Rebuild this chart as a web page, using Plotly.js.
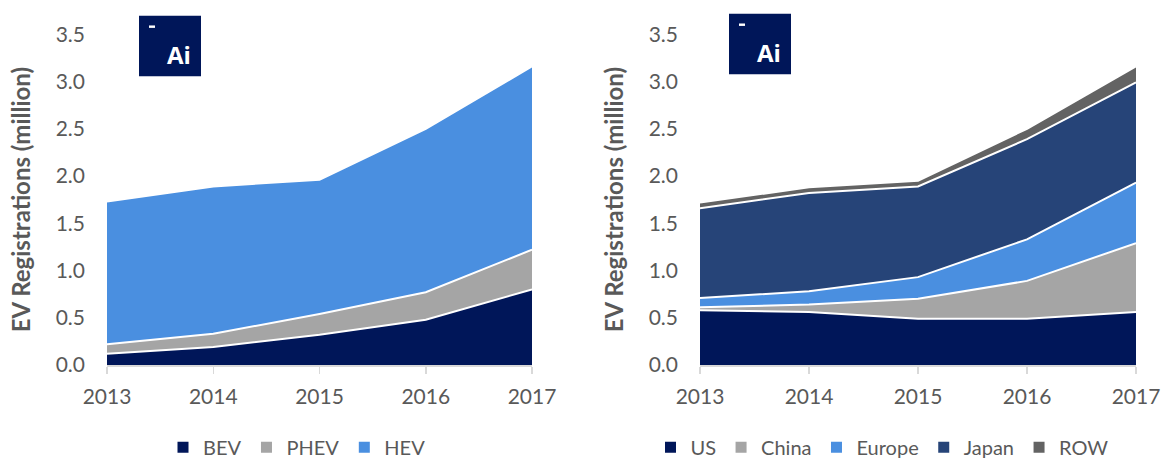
<!DOCTYPE html>
<html><head><meta charset="utf-8">
<script src="https://cdn.plot.ly/plotly-3.0.1.min.js"></script>
<style>html,body{margin:0;padding:0;background:#fff}#chart{width:1161px;height:467px}</style>
</head><body><div id="chart"></div>
<script>
const years = [2013, 2014, 2015, 2016, 2017];
// Left chart: by technology (million)
const bev  = [0.12, 0.19, 0.32, 0.48, 0.80];
const phev = [0.10, 0.14, 0.22, 0.29, 0.42];
const hev  = [1.51, 1.56, 1.42, 1.73, 1.94];
// Right chart: by region (million)
const us     = [0.58, 0.56, 0.49, 0.49, 0.56];
const china  = [0.03, 0.08, 0.21, 0.40, 0.73];
const europe = [0.10, 0.14, 0.23, 0.44, 0.64];
const japan  = [0.95, 1.04, 0.96, 1.06, 1.06];
const row    = [0.06, 0.06, 0.06, 0.11, 0.17];

const yTitle = 'EV Registrations (million)';
const C = {navy:'#001659', gray:'#a5a5a5', blue:'#4a8fe0', dblue:'#264478', dgray:'#636363'};
const W = 1161, H = 467;
const px = v => v / W, py = v => 1 - v / H;
const FONT = 'Lato, "Open Sans", sans-serif';
const TXT = '#595959';

function area(x, y, color, xa, ya, grp) {
  return {x: x, y: y, type: 'scatter', mode: 'lines', stackgroup: grp,
    fillcolor: color, line: {color: '#ffffff', width: 2}, xaxis: xa, yaxis: ya,
    showlegend: false, hoverinfo: 'x+y'};
}
function leg(name, color, legend) {
  return {x: [null], y: [null], type: 'scatter', mode: 'markers', name: name,
    marker: {symbol: 'square', size: 11, color: color}, legend: legend,
    xaxis: legend === 'legend' ? 'x' : 'x2', yaxis: legend === 'legend' ? 'y' : 'y2'};
}

const data = [
  area(years, bev, C.navy, 'x', 'y', 'a'),
  area(years, phev, C.gray, 'x', 'y', 'a'),
  area(years, hev, C.blue, 'x', 'y', 'a'),
  area(years, us, C.navy, 'x2', 'y2', 'b'),
  area(years, china, C.gray, 'x2', 'y2', 'b'),
  area(years, europe, C.blue, 'x2', 'y2', 'b'),
  area(years, japan, C.dblue, 'x2', 'y2', 'b'),
  area(years, row, C.dgray, 'x2', 'y2', 'b'),
  leg('BEV', C.navy, 'legend'), leg('PHEV', C.gray, 'legend'), leg('HEV', C.blue, 'legend'),
  leg('US', C.navy, 'legend2'), leg('China', C.gray, 'legend2'), leg('Europe', C.blue, 'legend2'),
  leg('Japan', C.dblue, 'legend2'), leg('ROW', C.dgray, 'legend2')
];

function xax(dom) {
  return {domain: dom, range: [2013, 2017], dtick: 1, tick0: 2013, showgrid: false, zeroline: false,
    showline: true, linecolor: '#d9d9d9', linewidth: 1.5, ticks: 'outside', ticklen: 7,
    tickcolor: '#d9d9d9', tickwidth: 1.5, ticklabelstandoff: 5, automargin: false,
    tickfont: {family: FONT, size: 21, color: TXT}, fixedrange: true};
}
function yax(anchor) {
  return {domain: [py(373), py(35)], range: [0, 3.5], dtick: 0.5, tickformat: '.1f',
    showgrid: false, zeroline: false, showline: false, ticks: '', anchor: anchor,
    ticklabelstandoff: 21, automargin: false,
    tickfont: {family: FONT, size: 21, color: TXT},
    title: {text: yTitle, font: {family: FONT, size: 24, color: TXT, weight: 'bold'}, standoff: 18},
    fixedrange: true};
}

function logo(x0, y0) {
  return [
    {type: 'rect', xref: 'paper', yref: 'paper', x0: px(x0), x1: px(x0 + 62), y0: py(y0 + 62), y1: py(y0),
      fillcolor: C.navy, line: {width: 0}, layer: 'above'},
    {type: 'rect', xref: 'paper', yref: 'paper', x0: px(x0 + 10), x1: px(x0 + 16), y0: py(y0 + 12.5), y1: py(y0 + 10),
      fillcolor: '#ffffff', line: {width: 0}, layer: 'above'}
  ];
}
function logoText(x0, y0) {
  return {xref: 'paper', yref: 'paper', x: px(x0 + 40), y: py(y0 + 40), text: '<b>Ai</b>', showarrow: false,
    xanchor: 'center', yanchor: 'middle', font: {family: '"Open Sans", sans-serif', size: 24, color: '#ffffff'}};
}

const legFont = {family: FONT, size: 20, color: TXT};
const layout = {
  width: W, height: H, margin: {l: 0, r: 0, t: 0, b: 0},
  paper_bgcolor: '#ffffff', plot_bgcolor: '#ffffff',
  font: {family: FONT, color: TXT},
  xaxis: xax([px(107), px(532)]), yaxis: yax('x'),
  xaxis2: xax([px(700), px(1136)]), yaxis2: yax('x2'),
  legend: {orientation: 'h', traceorder: 'normal', x: px(297), xanchor: 'center', y: py(457), yanchor: 'middle',
    font: legFont, itemwidth: 30, bgcolor: 'rgba(0,0,0,0)'},
  legend2: {orientation: 'h', traceorder: 'normal', x: px(882), xanchor: 'center', y: py(457), yanchor: 'middle',
    font: legFont, itemwidth: 30, bgcolor: 'rgba(0,0,0,0)'},
  shapes: [].concat(logo(139, 16), logo(729, 14)),
  annotations: [logoText(139, 16), logoText(729, 14)],
  showlegend: true
};

Plotly.newPlot('chart', data, layout, {displayModeBar: false, staticPlot: true});
</script></body></html>
